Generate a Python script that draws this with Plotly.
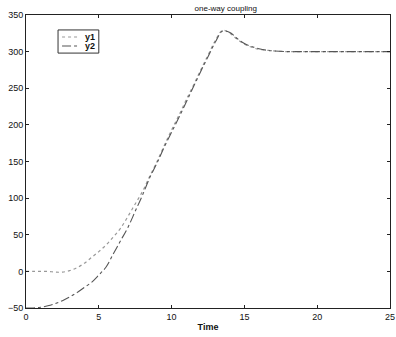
import plotly.graph_objects as go

t = [0, 0.5, 1, 1.5, 2, 2.5, 3, 3.5, 4, 4.5, 5, 5.5, 6, 6.5, 7, 7.5, 8, 8.5, 9, 9.5,
     10, 10.5, 11, 11.5, 12, 12.5, 13, 13.5, 14, 14.5, 15, 15.5, 16, 16.5, 17, 18,
     19, 20, 21, 22, 23, 24, 25]
y1 = [0, 0, 0, 0, -1, -1, 1, 5, 11, 19, 27, 36, 47, 59, 75, 92, 109, 130, 150, 172,
      193, 213, 234, 254, 275, 295, 315, 329, 325, 317, 310, 306, 303, 302, 301, 300,
      300, 300, 300, 300, 300, 300, 300]
y2 = [-50, -50, -49, -47, -44, -40, -35, -29, -22, -15, -5, 6, 24, 42, 60, 82, 104, 128, 148, 170,
      190, 210, 231, 252, 273, 293, 313, 328, 326, 318, 311, 307, 304, 302, 301, 300,
      300, 300, 300, 300, 300, 300, 300]
series_names = ["y1", "y2"]

x_ticks = [0, 5, 10, 15, 20, 25]
y_ticks = [-50, 0, 50, 100, 150, 200, 250, 300, 350]

styles = [dict(color="#999999", width=1.2, dash="dot"),
          dict(color="#555555", width=1.1, dash="dashdot")]

fig = go.Figure()
for name, ys, st in zip(series_names, [y1, y2], styles):
    fig.add_trace(go.Scatter(x=t, y=ys, name=name, mode="lines", line_shape="spline",
                             line=st, showlegend=False))

axis_common = dict(showgrid=False, zeroline=False, showline=True, linecolor="#222222",
                   linewidth=1, mirror="ticks", ticks="inside", ticklen=3,
                   tickcolor="#222222", ticklabeloverflow="allow", automargin=False,
                   tickfont=dict(size=9, color="#111111", family="Liberation Sans, Arial"))
fig.update_xaxes(range=[0, 25], tickvals=x_ticks, **axis_common,
                 title=dict(text="<b>Time</b>", font=dict(size=9, color="#111111"),
                            standoff=2))
fig.update_yaxes(range=[-50, 350], tickvals=y_ticks, **axis_common)

# compact MATLAB-style legend box
lx0, lx1, ly0, ly1 = 0.088, 0.200, 0.870, 0.949
fig.add_shape(type="rect", xref="paper", yref="paper", x0=lx0, x1=lx1, y0=ly0, y1=ly1,
              line=dict(color="#333333", width=1), fillcolor="white", layer="above")
for i, (name, st) in enumerate(zip(series_names, styles)):
    yy = 0.925 - i * 0.031
    fig.add_shape(type="line", xref="paper", yref="paper", x0=0.099, x1=0.141, y0=yy, y1=yy,
                  line=st, layer="above")
    fig.add_annotation(xref="paper", yref="paper", x=0.156, y=yy, text="<b>%s</b>" % name,
                       showarrow=False, xanchor="left", yanchor="middle",
                       font=dict(size=9, color="#111111"))

fig.update_layout(
    width=396, height=337,
    margin=dict(l=26, r=6, t=15, b=29),
    paper_bgcolor="white", plot_bgcolor="white",
    font=dict(family="Liberation Sans, Arial", size=9, color="#111111"),
    title=dict(text="one-way coupling", x=0.57, xanchor="center", y=0.985, yanchor="top",
               font=dict(size=8, color="#111111"), automargin=False),
    showlegend=False,
)

fig.write_html("out.html")
